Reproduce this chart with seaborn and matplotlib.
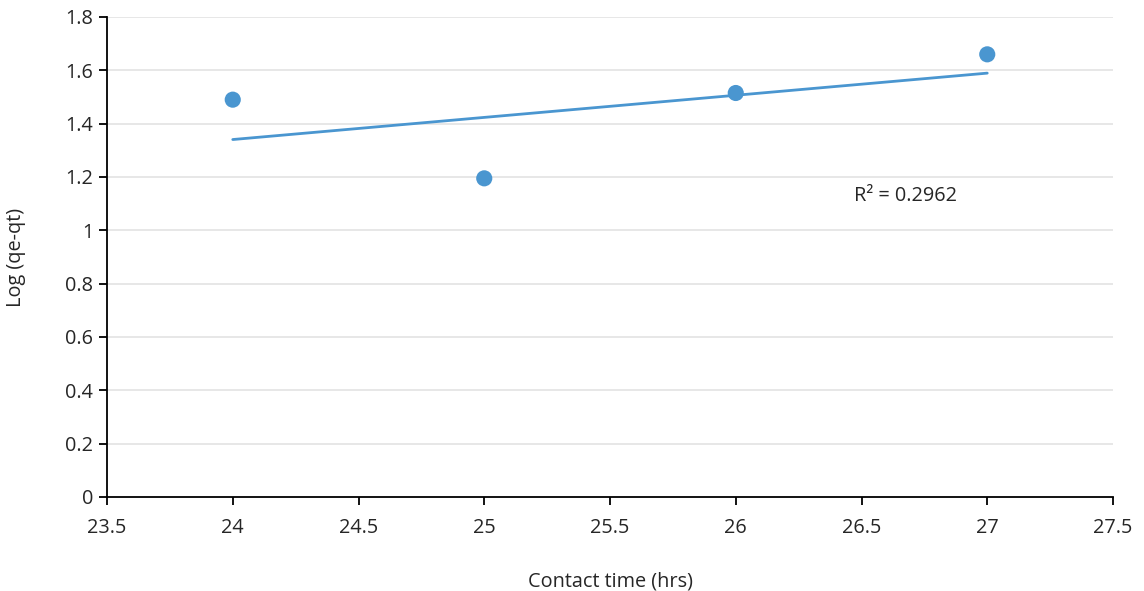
import numpy as np
import pandas as pd
import matplotlib
matplotlib.use("Agg")
import matplotlib.pyplot as plt
import seaborn as sns

contact_time = [24, 25, 26, 27]
log_qe_qt = [1.49, 1.195, 1.515, 1.66]
r2_label = "R² = 0.2962"
x_ticks = [23.5, 24, 24.5, 25, 25.5, 26, 26.5, 27, 27.5]
y_ticks = [0, 0.2, 0.4, 0.6, 0.8, 1, 1.2, 1.4, 1.6, 1.8]

sns.set_theme(style="white")
plt.rcParams['font.family'] = ['Open Sans', 'DejaVu Sans']

color = "#4a96d0"
df = pd.DataFrame({"x": contact_time, "y": log_qe_qt})
slope, intercept = np.polyfit(df["x"], df["y"], 1)
trend = pd.DataFrame({"x": [min(contact_time), max(contact_time)]})
trend["y"] = slope * trend["x"] + intercept

fig = plt.figure(figsize=(11.44, 5.91), dpi=100)
ax = fig.add_axes([107/1144, 1 - 497/591, (1113-107)/1144, (497-17)/591])

for yt in y_ticks[1:]:
    ax.axhline(yt, color="#e3e3e3", lw=1.2, zorder=0)

sns.lineplot(data=trend, x="x", y="y", ax=ax, color=color, lw=2, zorder=2)
sns.scatterplot(data=df, x="x", y="y", ax=ax, color=color, s=135, edgecolor="none", zorder=3)

ax.set_xlim(23.5, 27.5)
ax.set_ylim(0, 1.8)
ax.set_xticks(x_ticks)
ax.set_xticklabels([f"{v:g}" for v in x_ticks])
ax.set_yticks(y_ticks)
ax.set_yticklabels([f"{v:g}" for v in y_ticks])

for s in ["top", "right"]:
    ax.spines[s].set_visible(False)
for s in ["left", "bottom"]:
    ax.spines[s].set_color("black")
    ax.spines[s].set_linewidth(1.3)

fs = 14.3
ax.tick_params(axis="both", which="major", direction="out", length=6, width=1.3,
               color="black", labelsize=fs, labelcolor="#262626")
ax.tick_params(axis="x", pad=9, bottom=True)
ax.tick_params(axis="y", pad=4, left=True)

ax.set_xlabel("Contact time (hrs)", fontsize=fs, color="#262626", labelpad=24)
ax.set_ylabel("Log (qe-qt)", fontsize=fs, color="#262626")
ax.yaxis.set_label_coords(-0.0805, 0.5)

ax.text(26.47, 1.13, r2_label, fontsize=fs, color="#262626", ha="left", va="center")

fig.savefig("out.png", dpi=100)
